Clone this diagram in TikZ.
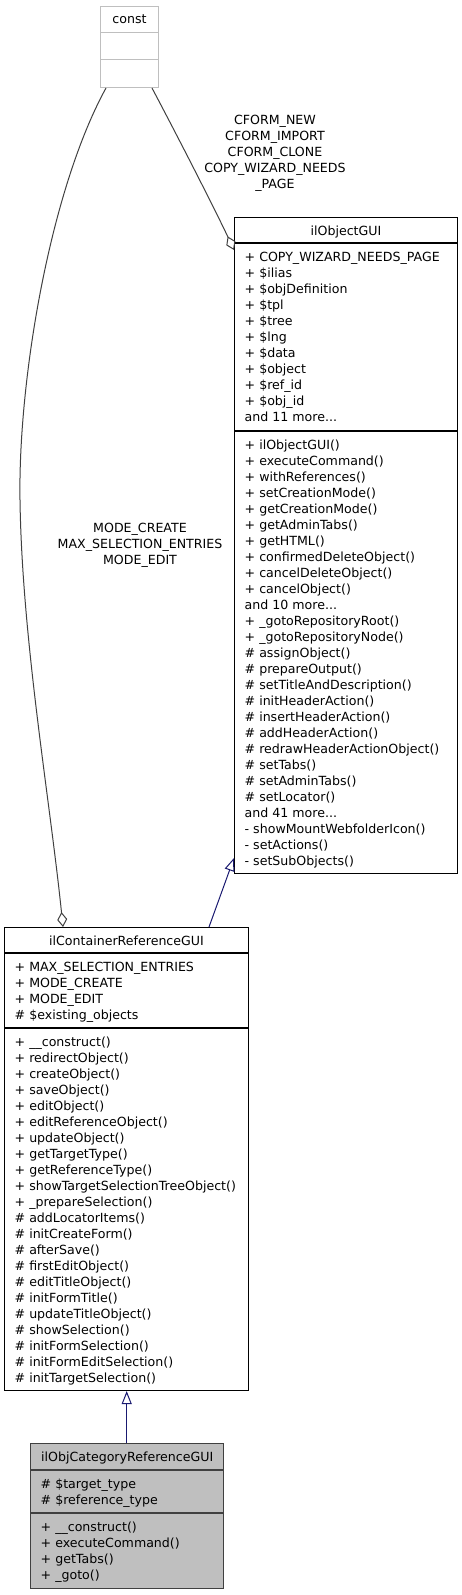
\documentclass[tikz,border=0pt]{standalone}
\usepackage{fontspec}
\setmainfont{DejaVu Sans}
\usetikzlibrary{arrows.meta,calc}
\definecolor{edgegray}{HTML}{404040}
\definecolor{boxgray}{HTML}{BFBFBF}
\definecolor{inhblue}{HTML}{191970}
\begin{document}
\begin{tikzpicture}[x=1pt,y=-1pt,
  every node/.style={font=\fontsize{12.6}{16}\selectfont},
  classbox/.style={draw=black, line width=1pt, rectangle, inner sep=0pt, anchor=north west},
  constbox/.style={draw=boxgray, line width=1pt, rectangle, inner sep=0pt, anchor=north west},
  curbox/.style={draw=edgegray, fill=boxgray, line width=1.4pt, rectangle, inner sep=0pt, anchor=north west},
  divider/.style={line width=1.4pt},
  ttl/.style={inner sep=0pt, anchor=base},
  txt/.style={inner sep=0pt, align=left, anchor=north west},
  lbl/.style={inner sep=0pt, align=center, anchor=north},
  inherit/.style={draw=inhblue, line width=1pt, -{Triangle[open, length=13pt, width=10pt]}},
  aggr/.style={draw=edgegray, line width=1pt, -{Diamond[open, length=15pt, width=10pt]}}
]
\useasboundingbox (0,0) rectangle (461,1595);

% ---------- const ----------
\node[constbox, minimum width=58pt, minimum height=81pt] (const) at (100,6) {};
\draw[draw=boxgray, line width=1pt] ($(const.north west)+(0,27)$) -- ($(const.north east)+(0,27)$);
\draw[draw=boxgray, line width=1pt] ($(const.north west)+(0,54)$) -- ($(const.north east)+(0,54)$);
\node[ttl] (constt) at ($(const.north)+(0,18)$) {const};

% ---------- ilObjectGUI ----------
\node[classbox, minimum width=223pt, minimum height=656pt] (obj) at (234,217) {};
\draw[divider] ($(obj.north west)+(0,26)$) -- ($(obj.north east)+(0,26)$);
\draw[divider] ($(obj.north west)+(0,214)$) -- ($(obj.north east)+(0,214)$);
\node[ttl] (objt) at ($(obj.north)+(0,18)$) {ilObjectGUI};
\node[txt] (obja) at ($(obj.north west)+(10.5,26+6.8)$) {\strut + COPY\_WIZARD\_NEEDS\_PAGE\\
+ \$ilias\\
+ \$objDefinition\\
+ \$tpl\\
+ \$tree\\
+ \$lng\\
+ \$data\\
+ \$object\\
+ \$ref\_id\\
+ \$obj\_id\\
and 11 more...};
\node[txt] (objm) at ($(obj.north west)+(10.5,214+6.8)$) {\strut + ilObjectGUI()\\
+ executeCommand()\\
+ withReferences()\\
+ setCreationMode()\\
+ getCreationMode()\\
+ getAdminTabs()\\
+ getHTML()\\
+ confirmedDeleteObject()\\
+ cancelDeleteObject()\\
+ cancelObject()\\
and 10 more...\\
+ \_gotoRepositoryRoot()\\
+ \_gotoRepositoryNode()\\
\# assignObject()\\
\# prepareOutput()\\
\# setTitleAndDescription()\\
\# initHeaderAction()\\
\# insertHeaderAction()\\
\# addHeaderAction()\\
\# redrawHeaderActionObject()\\
\# setTabs()\\
\# setAdminTabs()\\
\# setLocator()\\
and 41 more...\\
- showMountWebfolderIcon()\\
- setActions()\\
- setSubObjects()};

% ---------- ilContainerReferenceGUI ----------
\node[classbox, minimum width=244pt, minimum height=463pt] (cont) at (4,927) {};
\draw[divider] ($(cont.north west)+(0,26)$) -- ($(cont.north east)+(0,26)$);
\draw[divider] ($(cont.north west)+(0,101)$) -- ($(cont.north east)+(0,101)$);
\node[ttl] (contt) at ($(cont.north)+(0,18)$) {ilContainerReferenceGUI};
\node[txt] (conta) at ($(cont.north west)+(10.5,26+6.8)$) {\strut + MAX\_SELECTION\_ENTRIES\\
+ MODE\_CREATE\\
+ MODE\_EDIT\\
\# \$existing\_objects};
\node[txt] (contm) at ($(cont.north west)+(10.5,101+6.8)$) {\strut + \_\_construct()\\
+ redirectObject()\\
+ createObject()\\
+ saveObject()\\
+ editObject()\\
+ editReferenceObject()\\
+ updateObject()\\
+ getTargetType()\\
+ getReferenceType()\\
+ showTargetSelectionTreeObject()\\
+ \_prepareSelection()\\
\# addLocatorItems()\\
\# initCreateForm()\\
\# afterSave()\\
\# firstEditObject()\\
\# editTitleObject()\\
\# initFormTitle()\\
\# updateTitleObject()\\
\# showSelection()\\
\# initFormSelection()\\
\# initFormEditSelection()\\
\# initTargetSelection()};

% ---------- ilObjCategoryReferenceGUI ----------
\node[curbox, minimum width=193pt, minimum height=145pt] (cat) at (30,1443) {};
\draw[divider, draw=edgegray] ($(cat.north west)+(0,27)$) -- ($(cat.north east)+(0,27)$);
\draw[divider, draw=edgegray] ($(cat.north west)+(0,70)$) -- ($(cat.north east)+(0,70)$);
\node[ttl] (catt) at ($(cat.north)+(0,18)$) {ilObjCategoryReferenceGUI};
\node[txt] (cata) at ($(cat.north west)+(10.5,27+6.8)$) {\strut \# \$target\_type\\
\# \$reference\_type};
\node[txt] (catm) at ($(cat.north west)+(10.5,70+6.8)$) {\strut + \_\_construct()\\
+ executeCommand()\\
+ getTabs()\\
+ \_goto()};

% ---------- connectors ----------
\coordinate (objin) at ($(obj.north west)+(0,641)$);
\draw[inherit] ($(cont.north west)+(205,0)$) -- (objin);
\draw[inherit] ($(cat.north west)+(96.7,0)$) -- ($(cont.south west)+(122.7,0)$);

\coordinate (objagg) at ($(obj.north west)+(0,33)$);
\draw[aggr] ($(const.south west)+(52,0)$) .. controls (190,160) and (220,220) .. (objagg);
\coordinate (midleft) at (20,500);
\draw[aggr] ($(const.south west)+(6,0)$) .. controls (50,190) and (18,380) .. (midleft)
  .. controls (22,640) and (50,800) .. ($(cont.north west)+(59,0)$);

% ---------- edge labels ----------
\node[lbl] (lblobj) at (275,124.5-11.2) {\strut CFORM\_NEW\\
CFORM\_IMPORT\\
CFORM\_CLONE\\
COPY\_WIZARD\_NEEDS\\
\_PAGE};
\node[lbl] (lblcont) at (140,532.5-11.2) {\strut MODE\_CREATE\\
MAX\_SELECTION\_ENTRIES\\
MODE\_EDIT};
\end{tikzpicture}
\end{document}
